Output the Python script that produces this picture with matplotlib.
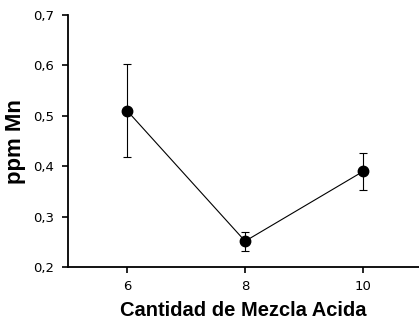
import matplotlib.pyplot as plt

# Cantidad de mezcla ácida vs ppm Mn
cantidad = [6, 8, 10]
ppm_mn = [0.51, 0.252, 0.39]
error = [0.092, 0.019, 0.037]

fig = plt.figure(figsize=(4.19, 3.23), dpi=100)
ax = fig.add_axes([0.163, 0.172, 0.837, 0.782])

ax.errorbar(cantidad, ppm_mn, yerr=error, color="black", linewidth=0.8,
            marker="o", markersize=7.5, elinewidth=0.8, capsize=3, capthick=0.8)

ax.set_xlim(5, 10.95)
ax.set_ylim(0.2, 0.7)
ax.set_xticks(cantidad)
ax.set_yticks([0.2, 0.3, 0.4, 0.5, 0.6, 0.7])
ax.set_yticklabels(["0,2", "0,3", "0,4", "0,5", "0,6", "0,7"])

for side in ["top", "right"]:
    ax.spines[side].set_visible(False)
for side in ["left", "bottom"]:
    ax.spines[side].set_linewidth(1.3)
ax.tick_params(direction="out", length=4, width=1.2, labelsize=9.5)
ax.tick_params(axis="x", pad=5)
ax.tick_params(axis="y", pad=6)

ax.set_xlabel("Cantidad de Mezcla Acida", family="Liberation Sans",
              fontweight="bold", fontsize=14.5, labelpad=6)
ax.set_ylabel("ppm Mn", family="Liberation Sans", fontweight="bold",
              fontsize=16, labelpad=5)

fig.savefig("out.png", dpi=100)
